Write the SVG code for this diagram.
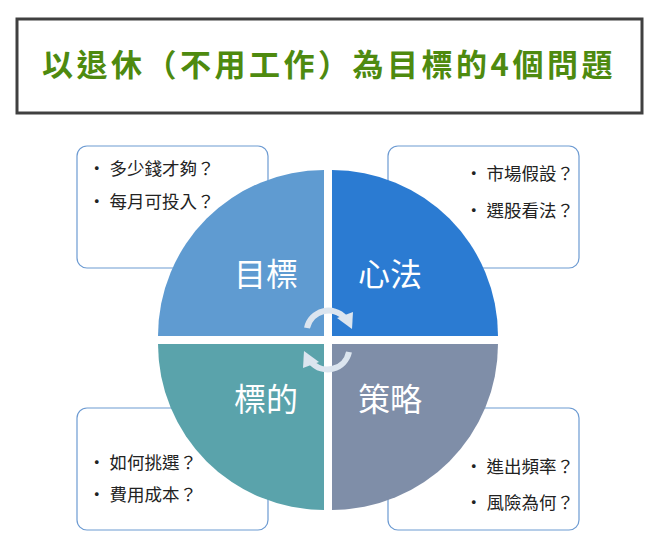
<svg xmlns="http://www.w3.org/2000/svg" width="660" height="540" viewBox="0 0 660 540">
<style>
.t{font-family:"Noto Sans CJK TC","Noto Sans CJK SC",sans-serif;}
.box{fill:#fff;stroke:#6d9bd2;stroke-width:1.2;}
.b{font-size:17.5px;fill:#222;}
.q{font-size:32px;fill:#fff;}
.arr{fill:none;stroke:#dce5ef;stroke-width:6;}
</style>
<rect width="660" height="540" fill="#fff"/>
<g id="title">
<rect x="17" y="19" width="625" height="94" fill="#fff" stroke="#404040" stroke-width="3"/>
<text class="t" x="329" y="76" text-anchor="middle" font-size="31" font-weight="bold" fill="#4e8a0f" letter-spacing="3.5">以退休（不用工作）為目標的4個問題</text>
</g>
<g id="box-tl"><rect class="box" x="77" y="146" width="191" height="122" rx="10"/>
<text class="t b" x="88" y="175">•  多少錢才夠？</text><text class="t b" x="88" y="208">•  每月可投入？</text></g>
<g id="box-tr"><rect class="box" x="388" y="146" width="191" height="122" rx="10"/>
<text class="t b" x="574" y="180" text-anchor="end">•  市場假設？</text><text class="t b" x="574" y="217" text-anchor="end">•  選股看法？</text></g>
<g id="box-bl"><rect class="box" x="77" y="408" width="191" height="122" rx="10"/>
<text class="t b" x="88" y="469">•  如何挑選？</text><text class="t b" x="88" y="501">•  費用成本？</text></g>
<g id="box-br"><rect class="box" x="388" y="408" width="191" height="122" rx="10"/>
<text class="t b" x="574" y="473" text-anchor="end">•  進出頻率？</text><text class="t b" x="574" y="509" text-anchor="end">•  風險為何？</text></g>
<g id="q-tl"><path d="M324,336 L158,336 A166,166 0 0 1 324,170 Z" fill="#5f9bd1"/><text class="t q" x="266" y="286" text-anchor="middle">目標</text></g>
<g id="q-tr"><path d="M332,336 L332,170 A166,166 0 0 1 498,336 Z" fill="#2b7bd2"/><text class="t q" x="390" y="286" text-anchor="middle">心法</text></g>
<g id="q-bl"><path d="M324,344 L324,510 A166,166 0 0 1 158,344 Z" fill="#5aa3ab"/><text class="t q" x="266" y="411" text-anchor="middle">標的</text></g>
<g id="q-br"><path d="M332,344 L498,344 A166,166 0 0 1 332,510 Z" fill="#7f8ea8"/><text class="t q" x="390" y="411" text-anchor="middle">策略</text></g>
<g id="connectors">
<path class="arr" d="M307,328 A22,22 0 0 1 345,318"/>
<polygon points="337,318 353,312 352,329" fill="#dce5ef"/>
<path class="arr" d="M349,352 A22,22 0 0 1 311,362"/>
<polygon points="319,362 303,368 304,351" fill="#dce5ef"/>
</g>
</svg>
